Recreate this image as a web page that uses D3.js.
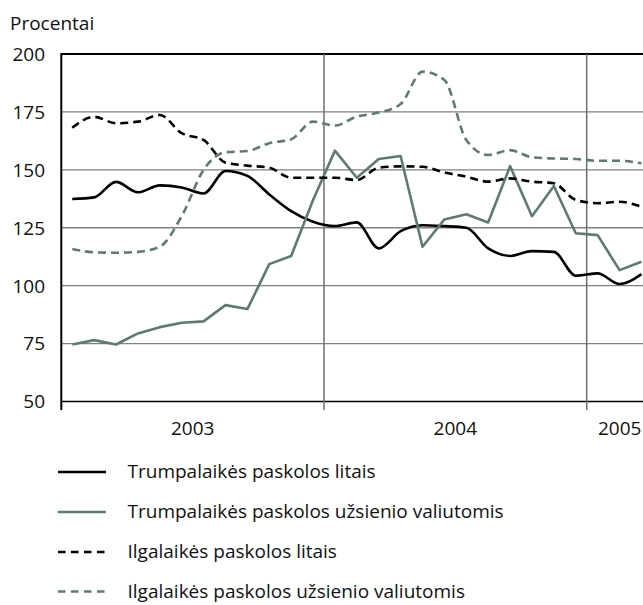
<!DOCTYPE html>
<html><head><meta charset="utf-8">
<script src="https://cdn.jsdelivr.net/npm/d3@7"></script>
<style>body{margin:0;background:#fff}svg{display:block;font-family:"Open Sans",sans-serif}</style>
</head><body><svg id="c" width="643" height="605"></svg>
<script>
const years = ["2003","2004","2005"];
const yTicks = [50,75,100,125,150,175,200];
const seriesNames = ["Trumpalaikės paskolos litais","Trumpalaikės paskolos užsienio valiutomis","Ilgalaikės paskolos litais","Ilgalaikės paskolos užsienio valiutomis"];
const shortLitas = [137.4,138.1,144.8,140.3,143.3,142.4,139.8,149.5,147.4,139.4,132.2,127.6,125.7,127.3,116.1,123.5,126.1,125.7,125.0,116.1,112.8,114.9,114.6,104.3,105.3,100.7,105.0];
const shortForeign = [74.6,76.5,74.6,79.4,82.1,84.0,84.6,91.6,89.9,109.3,112.8,137.0,158.3,146.6,154.7,156.0,116.8,128.6,130.8,127.3,151.6,130.0,143.0,122.6,121.8,106.7,110.3];
const longLitas = [168.2,172.9,170.1,170.8,173.7,165.8,162.9,153.1,151.8,150.9,146.6,146.6,146.6,145.6,150.9,151.5,151.3,148.9,147.0,144.9,146.3,144.9,144.2,137.0,135.6,136.2,134.1];
const longForeign = [115.8,114.4,114.2,114.6,116.8,130.0,150.0,157.6,158.1,161.5,163.2,170.8,169.1,173.0,174.7,178.4,192.4,188.8,162.9,156.4,158.5,155.4,154.9,154.7,153.9,153.9,152.8];

const svg = d3.select("#c");
const W = 643;
const x = d3.scaleLinear().domain([0,12]).range([61.3,324]);
const y = d3.scaleLinear().domain([50,200]).range([401.5,54]);
const grey = "#5f7a72";

// horizontal grid
svg.append("g").selectAll("line").data(yTicks).join("line")
  .attr("x1", x(0)).attr("x2", W)
  .attr("y1", d=>y(d)).attr("y2", d=>y(d))
  .attr("stroke", d=> (d===200||d===50) ? "#000" : "#808080")
  .attr("stroke-width", d=> d===200 ? 2 : (d===50 ? 1.5 : 1.3));

// vertical year separators
svg.append("g").selectAll("line").data([12,24]).join("line")
  .attr("x1", d=>x(d)).attr("x2", d=>x(d))
  .attr("y1", y(200)).attr("y2", 410)
  .attr("stroke", "#6e6e6e").attr("stroke-width", 1.5);
// left axis
svg.append("line").attr("x1", x(0)).attr("x2", x(0)).attr("y1", y(200)-1).attr("y2", 410)
  .attr("stroke","#000").attr("stroke-width",2);

// y labels
svg.append("g").selectAll("text").data(yTicks).join("text")
  .attr("x", 45).attr("y", d=>y(d)).attr("dy","0.36em")
  .attr("text-anchor","end").attr("font-size",19).attr("fill","#111")
  .text(d=>d);
svg.append("text").attr("x",10).attr("y",30).attr("font-size",19).attr("fill","#111").text("Procentai");

// year labels
svg.append("g").selectAll("text").data(years).join("text")
  .attr("x",(d,i)=> i<2 ? x(i*12+6) : x(24)+33).attr("y",435)
  .attr("text-anchor","middle").attr("font-size",19).attr("fill","#111").text(d=>d);

// clip
svg.append("clipPath").attr("id","clip").append("rect")
  .attr("x", x(0)).attr("y", 0).attr("width", W - x(0)).attr("height", 420);

const styles = [
  {data: shortLitas, color:"#000", dash:null, curve:d3.curveMonotoneX},
  {data: shortForeign, color:grey, dash:null, curve:d3.curveLinear},
  {data: longLitas, color:"#000", dash:"8,5", curve:d3.curveMonotoneX},
  {data: longForeign, color:grey, dash:"8,5", curve:d3.curveMonotoneX}
];
const g = svg.append("g").attr("clip-path","url(#clip)");
styles.forEach(s=>{
  const line = d3.line().x((d,i)=>x(i+0.5)).y(d=>y(d)).curve(s.curve);
  g.append("path").datum(s.data).attr("d",line)
    .attr("fill","none").attr("stroke",s.color).attr("stroke-width",2.6)
    .attr("stroke-dasharray",s.dash).attr("stroke-linejoin","round");
});

// legend
const lg = svg.append("g");
const rowY = [472,512,552,591.5];
styles.forEach((s,i)=>{
  lg.append("line").attr("x1",58).attr("x2",106).attr("y1",rowY[i]).attr("y2",rowY[i])
    .attr("stroke",s.color).attr("stroke-width",2.6).attr("stroke-dasharray", s.dash ? "7.5,5.5" : null);
  lg.append("text").attr("x",127.5).attr("y",rowY[i]).attr("dy","0.33em")
    .attr("font-size",19).attr("fill","#111").text(seriesNames[i]);
});
</script></body></html>
